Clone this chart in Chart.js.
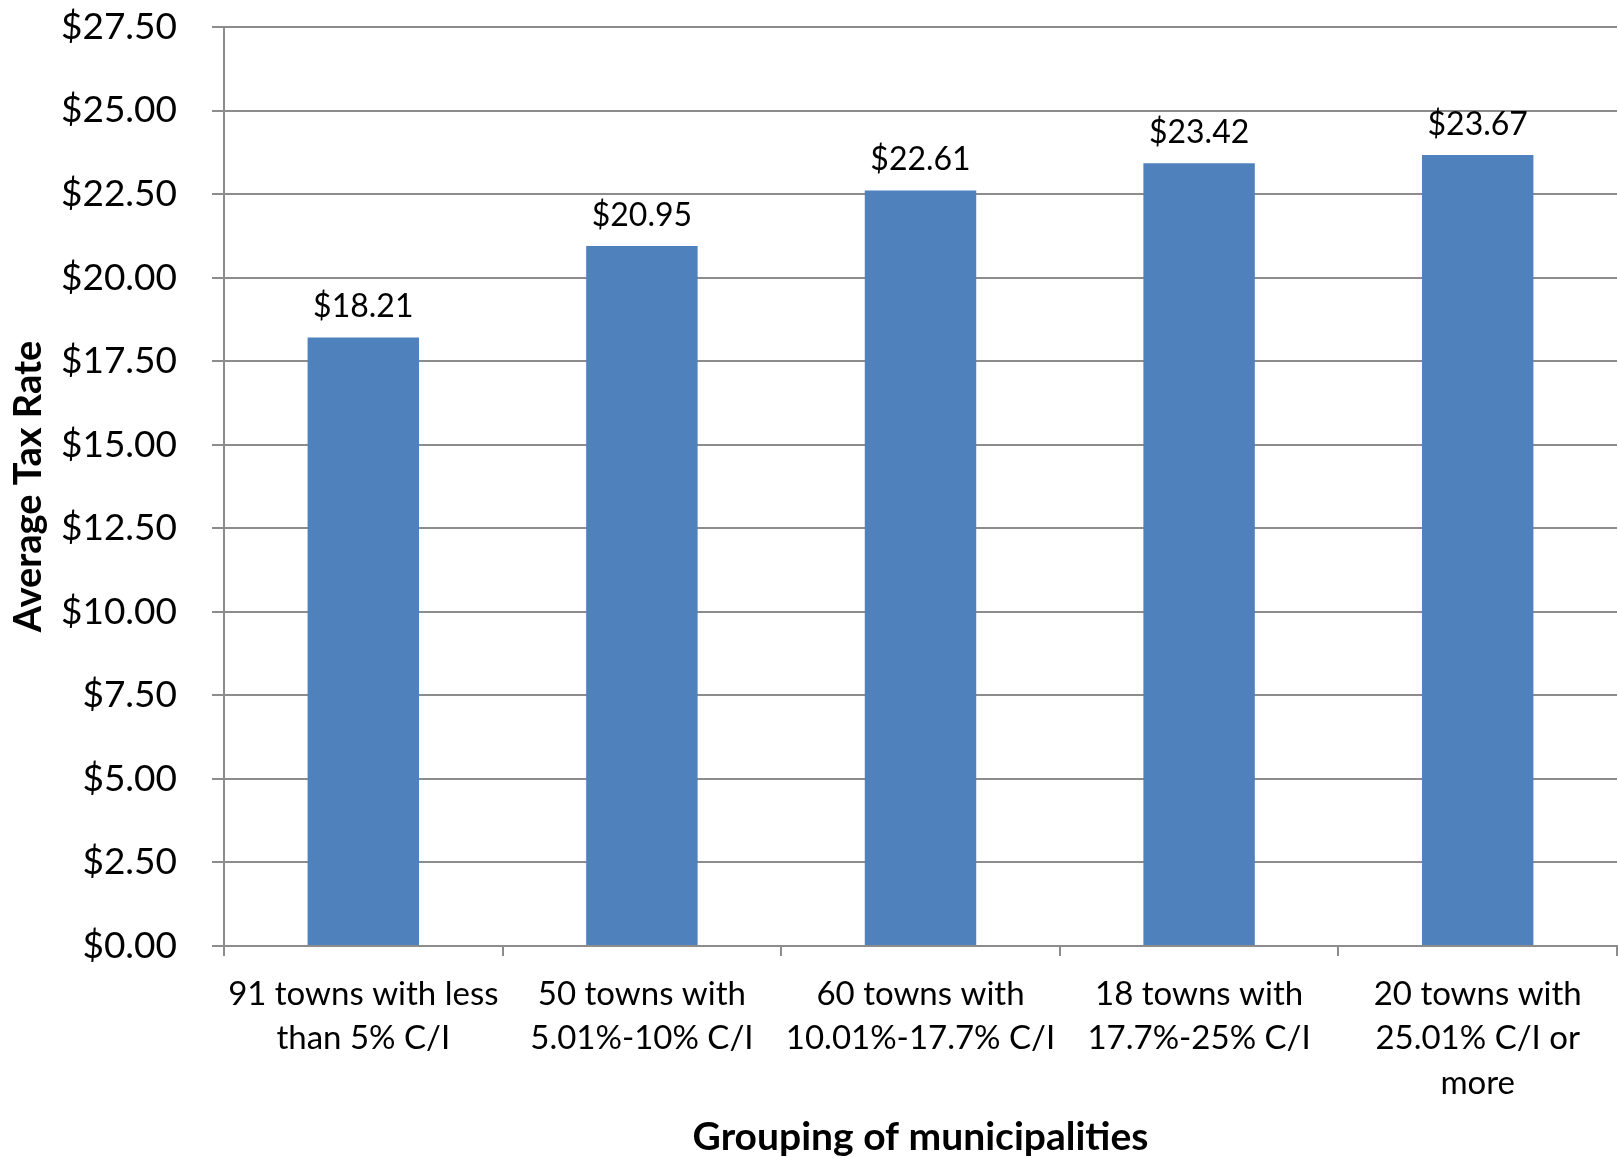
<!DOCTYPE html>
<html><head><meta charset="utf-8">
<script src="https://cdn.jsdelivr.net/npm/chart.js@4"></script>
<style>html,body{margin:0;padding:0;background:#fff}#wrap{width:1618px;height:1158px}</style>
</head><body><div id="wrap"><canvas id="c" width="1618" height="1158"></canvas></div>
<script>
const categories = [
  ["91 towns with less", "than 5% C/I"],
  ["50 towns with", "5.01%-10% C/I"],
  ["60 towns with", "10.01%-17.7% C/I"],
  ["18 towns with", "17.7%-25% C/I"],
  ["20 towns with", "25.01% C/I or", "more"]
];
const averageTaxRate = [18.21, 20.95, 22.61, 23.42, 23.67];
const yMin = 0, yMax = 27.5, yStep = 2.5;
const yTitle = "Average Tax Rate";
const xTitle = "Grouping of municipalities";

const FONT = "Lato, 'Open Sans', sans-serif";
const GRID = "#8c8c8c";
const fmt = v => "$" + v.toFixed(2);

const labelPlugin = {
  id: "valueLabels",
  afterDatasetsDraw(chart) {
    const ctx = chart.ctx;
    const meta = chart.getDatasetMeta(0);
    ctx.save();
    ctx.font = "32px " + FONT;
    ctx.fillStyle = "#000";
    ctx.textAlign = "center";
    ctx.textBaseline = "alphabetic";
    meta.data.forEach((bar, i) => {
      ctx.fillText(fmt(averageTaxRate[i]), bar.x, bar.y - 20);
    });
    ctx.restore();
  }
};

new Chart(document.getElementById("c"), {
  type: "bar",
  data: {
    labels: categories,
    datasets: [{
      data: averageTaxRate,
      backgroundColor: "#4F81BD",
      borderWidth: 0,
      categoryPercentage: 1.0,
      barPercentage: 0.4
    }]
  },
  options: {
    responsive: false,
    animation: false,
    devicePixelRatio: 1,
    layout: { padding: { top: 27, right: 1, left: 0, bottom: 0 } },
    plugins: { legend: { display: false }, tooltip: { enabled: false } },
    scales: {
      x: {
        offset: true,
        grid: { offset: true, drawOnChartArea: false, drawTicks: true, tickLength: 10, color: GRID, lineWidth: 2 },
        border: { color: GRID, width: 2 },
        ticks: { color: "#000", font: { family: FONT, size: 33, lineHeight: 1.35 }, padding: 16, maxRotation: 0, autoSkip: false },
        title: { display: true, text: xTitle, color: "#000", font: { family: FONT, size: 39, weight: "bold", lineHeight: 1 }, padding: { top: 0, bottom: 1 } },
        afterFit: s => { s.height = 212; s.paddingLeft = 0; s.paddingRight = 0; }
      },
      y: {
        min: yMin, max: yMax,
        ticks: { stepSize: yStep, color: "#000", font: { family: FONT, size: 37 }, padding: 35, callback: v => fmt(v) },
        grid: { color: GRID, lineWidth: 2, tickLength: 12 },
        border: { color: GRID, width: 2 },
        title: { display: true, text: yTitle, color: "#000", font: { family: FONT, size: 38, weight: "bold", lineHeight: 1 }, padding: { top: 10, bottom: 0 } },
        afterFit: s => { s.width = 224; s.paddingTop = 0; s.paddingBottom = 0; }
      }
    }
  },
  plugins: [labelPlugin]
});
</script></body></html>
